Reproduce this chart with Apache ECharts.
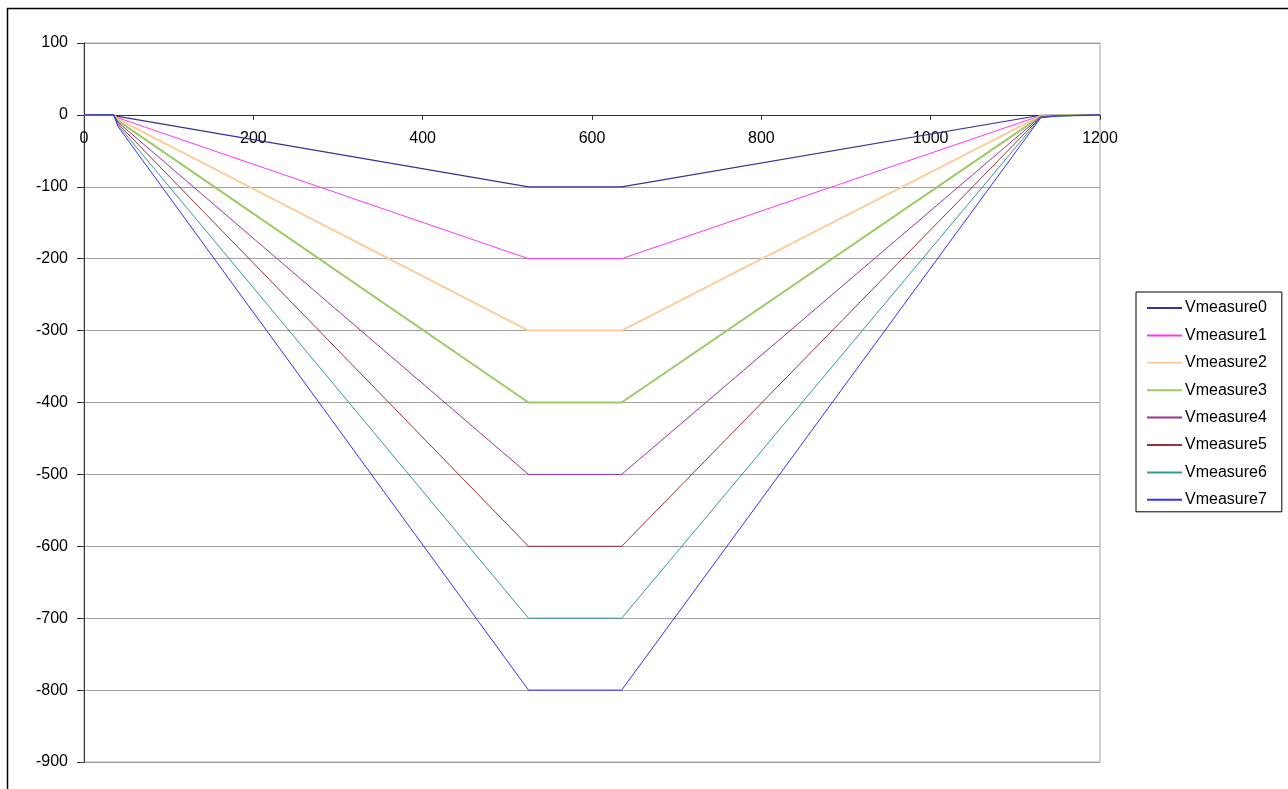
<!DOCTYPE html>
<html>
<head>
<meta charset="utf-8">
<script src="https://cdn.jsdelivr.net/npm/echarts@6/dist/echarts.min.js"></script>
<style>html,body{margin:0;padding:0;background:#fff;}#chart{width:1288px;height:789px;}</style>
</head>
<body>
<div id="chart"></div>
<script>
const xValues = [0, 35, 40, 525, 635, 1130, 1150, 1200];
const seriesNames = ['Vmeasure0','Vmeasure1','Vmeasure2','Vmeasure3','Vmeasure4','Vmeasure5','Vmeasure6','Vmeasure7'];
const vmeasure0 = [0, 0, -2, -100, -100, -0.5, -0.2, 0];
const vmeasure1 = [0, 0, -4, -200, -200, -1, -0.4, 0];
const vmeasure2 = [0, 0, -6, -300, -300, -1.5, -0.6, 0];
const vmeasure3 = [0, 0, -8, -400, -400, -2, -0.8, 0];
const vmeasure4 = [0, 0, -10, -500, -500, -2.5, -1, 0];
const vmeasure5 = [0, 0, -12, -600, -600, -3, -1.2, 0];
const vmeasure6 = [0, 0, -14, -700, -700, -3.5, -1.4, 0];
const vmeasure7 = [0, 0, -16, -800, -800, -4, -1.6, 0];
const xTicks = [0, 200, 400, 600, 800, 1000, 1200];
const yTicks = [100, 0, -100, -200, -300, -400, -500, -600, -700, -800, -900];

const allValues = [vmeasure0, vmeasure1, vmeasure2, vmeasure3, vmeasure4, vmeasure5, vmeasure6, vmeasure7];
const colors = ['#333399', '#FF33FF', '#FFCC99', '#99CC66', '#993399', '#993333', '#339999', '#3333FF'];
const widths = [1.2, 1, 2, 2, 1, 1, 1, 1];

const chart = echarts.init(document.getElementById('chart'));
const font = 'Liberation Sans, Arial, sans-serif';
const gridTop = 43, gridBottom = 27, chartH = 789;
const plotH = chartH - gridTop - gridBottom;
const yMin = yTicks[yTicks.length - 1], yMax = yTicks[0];
// x axis sits at value 0 of the y axis
const xAxisOffset = -plotH * (0 - yMin) / (yMax - yMin);

chart.setOption({
  animation: false,
  backgroundColor: '#fff',
  graphic: [{
    type: 'rect', shape: {x: 7.5, y: 8.5, width: 1300, height: 800},
    style: {fill: 'none', stroke: '#000', lineWidth: 1.5}, z: 100
  }],
  grid: {left: 84, top: gridTop, right: 188, bottom: gridBottom, show: true, borderColor: '#a0a0a0', borderWidth: 1},
  legend: {
    orient: 'vertical', left: 1136, top: 292,
    data: seriesNames.map(n => ({name: n, icon: 'rect'})),
    itemWidth: 35, itemHeight: 2, itemGap: 11.4,
    padding: [8, 15, 4, 11],
    borderColor: '#000', borderWidth: 1,
    textStyle: {fontFamily: font, fontSize: 16, color: '#000', padding: [0, 0, 0, -2]}
  },
  xAxis: {
    type: 'value', min: xTicks[0], max: xTicks[xTicks.length - 1], interval: 200,
    position: 'bottom', offset: xAxisOffset,
    axisLine: {onZero: false, lineStyle: {color: '#333', width: 1}},
    axisTick: {show: true, length: 5, lineStyle: {color: '#333'}},
    axisLabel: {fontFamily: font, fontSize: 16, color: '#000', margin: 16, formatter: v => String(v)},
    splitLine: {show: false}
  },
  yAxis: {
    type: 'value', min: yMin, max: yMax, interval: 100,
    axisLine: {show: true, onZero: false, lineStyle: {color: '#333', width: 1}},
    axisTick: {show: true, length: 7, lineStyle: {color: '#333'}},
    axisLabel: {fontFamily: font, fontSize: 16, color: '#000', margin: 16, formatter: v => String(v)},
    splitLine: {show: true, lineStyle: {color: '#a0a0a0', width: 1}}
  },
  series: seriesNames.map((name, i) => ({
    name: name, type: 'line', symbol: 'none', showSymbol: false,
    data: xValues.map((x, j) => [x, allValues[i][j]]),
    lineStyle: {color: colors[i], width: widths[i]},
    itemStyle: {color: colors[i]},
    z: 2 + i
  }))
});
</script>
</body>
</html>
